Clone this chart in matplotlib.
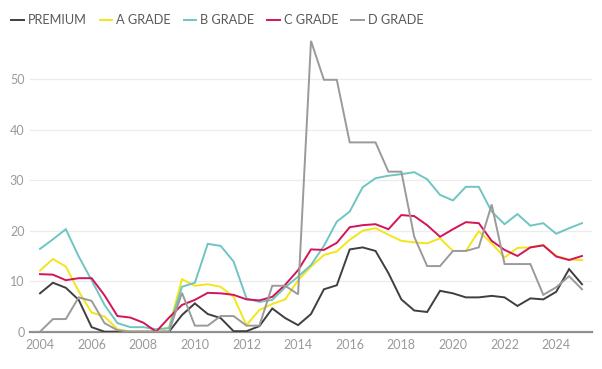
import numpy as np
import matplotlib
matplotlib.use("Agg")
import matplotlib.pyplot as plt

plt.rcParams["font.family"] = ["Lato", "DejaVu Sans"]

# half-yearly observations, 2004.0 .. 2025.0
years = np.arange(2004.0, 2025.01, 0.5)

premium = [7.6, 9.7, 8.7, 6.3, 0.9, 0, 0, 0, 0, 0, 0,
           3.3, 5.6, 3.5, 2.7, 0.1, 0.1, 1.1, 4.6, 2.7, 1.3,
           3.5, 8.4, 9.2, 16.3, 16.7, 16.0, 11.6, 6.4, 4.2, 3.9,
           8.1, 7.6, 6.8, 6.8, 7.1, 6.8, 5.1, 6.6, 6.4, 7.9, 12.4, 9.4]
a_grade = [12.1, 14.4, 12.9, 8.0, 3.8, 3.0, 0.5, 0, 0, 0, 0.9,
           10.4, 9.1, 9.4, 8.9, 6.9, 1.3, 4.3, 5.5, 6.4, 10.2,
           12.9, 15.2, 15.9, 18.2, 20.0, 20.5, 19.2, 18.0, 17.7, 17.5,
           18.5, 16.0, 16.0, 19.9, 17.5, 14.7, 16.6, 16.7, 17.2, 15.0, 14.3, 14.2]
b_grade = [16.4, 18.3, 20.3, 14.9, 10.2, 5.3, 1.7, 0.9, 0.9, 0.5, 0.7,
           8.9, 9.7, 17.4, 17.0, 13.9, 6.6, 5.9, 6.3, 8.8, 10.9,
           13.2, 17.0, 21.8, 23.8, 28.6, 30.4, 30.9, 31.2, 31.6, 30.2,
           27.1, 26.0, 28.7, 28.7, 23.8, 21.3, 23.3, 21.0, 21.5, 19.4, 20.5, 21.5]
c_grade = [11.4, 11.3, 10.2, 10.6, 10.6, 7.2, 3.1, 2.8, 1.8, 0, 2.8,
           5.3, 6.3, 7.7, 7.6, 7.3, 6.4, 6.2, 6.9, 9.3, 12.2,
           16.3, 16.2, 17.6, 20.7, 21.1, 21.3, 20.3, 23.1, 22.9, 21.1,
           18.8, 20.3, 21.7, 21.5, 18.0, 16.2, 15.0, 16.7, 17.1, 14.9, 14.2, 15.0]
d_grade = [0, 2.5, 2.5, 6.8, 6.1, 1.7, 0.3, 0, 0, 0, 0,
           7.7, 1.2, 1.2, 3.1, 3.1, 1.2, 1.2, 9.1, 9.1, 7.4,
           57.6, 49.9, 49.9, 37.5, 37.5, 37.5, 31.7, 31.7, 18.8, 13.0,
           13.0, 16.0, 16.0, 16.7, 25.2, 13.4, 13.4, 13.4, 7.3, 8.8, 11.0, 8.4]

labels = ["PREMIUM", "A GRADE", "B GRADE", "C GRADE", "D GRADE"]
series = [premium, a_grade, b_grade, c_grade, d_grade]
colors = ["#3f3f3f", "#f2e61a", "#6fc5c1", "#d4145a", "#9a9a9a"]

xticks = list(range(2004, 2025, 2))
yticks = [0, 10, 20, 30, 40, 50]

fig = plt.figure(figsize=(6.02, 3.69), dpi=100)
ax = fig.add_axes([30 / 602, 1 - 331.7 / 369, 562 / 602, (331.7 - 38.9) / 369])

for vals, lab, col in zip(series, labels, colors):
    ax.plot(years, vals, color=col, lw=1.4, label=lab, solid_joinstyle="miter")

ax.set_xlim(2004 - 10 / 25.8, 2025 + 10 / 25.8)
ax.set_ylim(0, 58)
ax.set_xticks(xticks)
ax.set_yticks(yticks)
ax.grid(axis="y", color="#ececec", lw=0.9)
ax.set_axisbelow(True)

for s in ["top", "right", "left"]:
    ax.spines[s].set_visible(False)
ax.spines["bottom"].set_color("#8a8a8a")
ax.spines["bottom"].set_linewidth(1.6)
ax.spines["bottom"].set_zorder(0.5)

ax.tick_params(axis="both", length=0, labelsize=9, labelcolor="#9a9a9a")
ax.tick_params(axis="y", pad=4)
ax.tick_params(axis="x", pad=5)

fig.legend(loc="center left", bbox_to_anchor=(0.006, 1 - 20 / 369), ncol=5,
           frameon=False, fontsize=9.2, handlelength=1.0, handletextpad=0.3,
           columnspacing=1.0, labelcolor="#5a5a5a", borderaxespad=0.2)

fig.savefig("out.png", dpi=100)
